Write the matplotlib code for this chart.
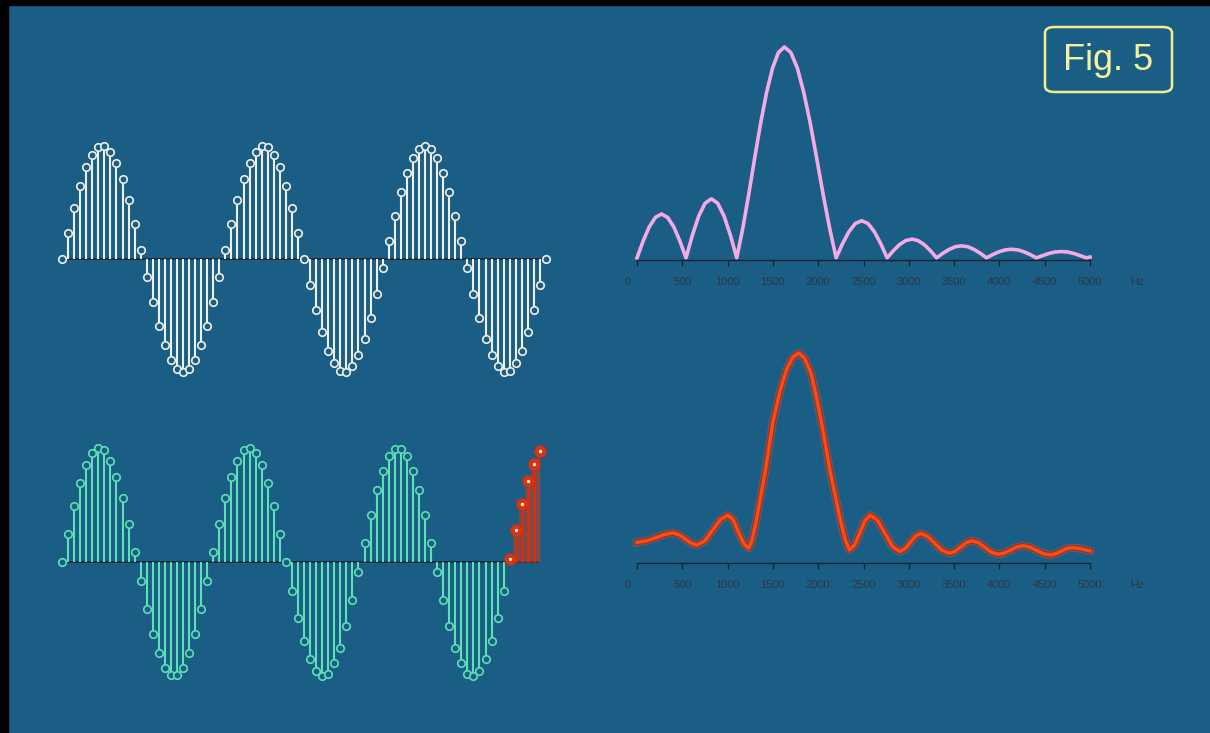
import matplotlib.pyplot as plt
from matplotlib.patches import FancyBboxPatch, Rectangle
from matplotlib.transforms import blended_transform_factory

W, H = 1210, 733
bg = '#1a5e85'
dark = '#1b2230'
label_col = '#2a3848'

# sampled signal, top panel (3 whole cycles in the window)
top_samples = [0.00, 0.23, 0.45, 0.65, 0.81, 0.92, 0.99, 1.00, 0.95, 0.85,
               0.71, 0.52, 0.31, 0.08, -0.16, -0.38, -0.59, -0.76, -0.89, -0.97,
               -1.00, -0.97, -0.89, -0.76, -0.59, -0.38, -0.16, 0.08, 0.31, 0.52,
               0.71, 0.85, 0.95, 1.00, 0.99, 0.92, 0.81, 0.65, 0.45, 0.23,
               0.00, -0.23, -0.45, -0.65, -0.81, -0.92, -0.99, -1.00, -0.95, -0.85,
               -0.71, -0.52, -0.31, -0.08, 0.16, 0.38, 0.59, 0.76, 0.89, 0.97,
               1.00, 0.97, 0.89, 0.76, 0.59, 0.38, 0.16, -0.08, -0.31, -0.52,
               -0.71, -0.85, -0.95, -1.00, -0.99, -0.92, -0.81, -0.65, -0.45, -0.23,
               0.00]

# sampled signal, bottom panel (3 cycles + a cut-off piece in red)
bot_samples = [0.00, 0.25, 0.49, 0.69, 0.85, 0.96, 1.00, 0.98, 0.89, 0.75,
               0.56, 0.33, 0.09, -0.17, -0.41, -0.63, -0.80, -0.93, -0.99, -0.99,
               -0.93, -0.80, -0.63, -0.41, -0.17, 0.09, 0.33, 0.56, 0.75, 0.89,
               0.98, 1.00, 0.96, 0.85, 0.69, 0.49, 0.25, 0.00,
               -0.25, -0.49, -0.69, -0.85, -0.96, -1.00, -0.98, -0.89, -0.75, -0.56,
               -0.33, -0.09, 0.17, 0.41, 0.63, 0.80, 0.93, 0.99, 0.99, 0.93,
               0.80, 0.63, 0.41, 0.17, -0.09, -0.33, -0.56, -0.75, -0.89, -0.98,
               -1.00, -0.96, -0.85, -0.69, -0.49, -0.25]
extra_samples = [0.03, 0.28, 0.51, 0.71, 0.86, 0.97]

# spectrum, top panel
top_freq = [0, 68, 135, 203, 270, 338, 406, 473,
            541, 611, 681, 751, 821, 891, 961, 1031,
            1101, 1167, 1233, 1298, 1364, 1430, 1496, 1561, 1627,
            1698, 1770, 1841, 1913, 1984, 2055, 2127,
            2198, 2268, 2339, 2409, 2480, 2550, 2620, 2691,
            2761, 2829, 2898, 2966, 3034, 3102, 3170, 3239,
            3307, 3376, 3445, 3514, 3583, 3651, 3720, 3789,
            3858, 3927, 3996, 4064, 4133, 4202, 4271, 4339,
            4408, 4477, 4546, 4615, 4684, 4753, 4822, 4891,
            4960, 5000]
top_mag = [0, 8.0, 14.7, 19.2, 20.8, 19.2, 14.7, 8.0,
           0, 10.7, 19.8, 25.9, 28.0, 25.9, 19.8, 10.7,
           0, 13.9, 30.0, 47.1, 63.7, 78.4, 90.0, 97.4, 100,
           97.4, 90.0, 78.4, 63.7, 47.1, 30.0, 13.9,
           0, 6.7, 12.4, 16.3, 17.6, 16.3, 12.4, 6.7,
           0, 3.4, 6.3, 8.2, 8.9, 8.2, 6.3, 3.4,
           0, 2.2, 4.0, 5.3, 5.7, 5.3, 4.0, 2.2,
           0, 1.6, 2.9, 3.8, 4.1, 3.8, 2.9, 1.6,
           0, 1.1, 2.1, 2.8, 3.0, 2.8, 2.1, 1.1,
           0, 0.4]

# spectrum, bottom panel
bot_freq = [0, 100, 200, 300, 394, 462, 530, 597, 665, 750, 835, 920, 1005,
            1062, 1119, 1176, 1233, 1270, 1314, 1414, 1499, 1580, 1650, 1720,
            1785, 1850, 1920, 1980, 2036, 2133, 2249, 2300, 2345,
            2403, 2461, 2519, 2577, 2657, 2737, 2818, 2898,
            2956, 3014, 3072, 3130, 3209, 3288, 3368, 3447,
            3510, 3572, 3635, 3698, 3770, 3843, 3915, 3988,
            4055, 4123, 4190, 4258, 4333, 4409, 4484, 4560,
            4620, 4680, 4739, 4799, 4866, 4933, 5000]
bot_mag = [8.9, 9.6, 11.0, 12.7, 13.5, 12.6, 10.6, 8.5, 7.6, 9.7, 14.8, 19.9, 22.0,
           19.7, 14.0, 8.4, 6.1, 10.0, 18.8, 42.7, 66.6, 82.0, 92.0, 98.0,
           100, 97.5, 90.4, 79.0, 66.6, 42.7, 18.8, 10.0, 5.3,
           7.7, 13.6, 19.6, 22.0, 19.4, 13.2, 7.1, 4.5,
           5.8, 8.8, 11.9, 13.2, 11.8, 8.4, 5.1, 3.7,
           4.6, 6.7, 8.8, 9.7, 8.8, 6.4, 4.1, 3.2,
           3.8, 5.2, 6.7, 7.3, 6.7, 5.1, 3.5, 2.9,
           3.4, 4.6, 5.9, 6.4, 6.1, 5.5, 4.8]

hz_ticks = [0, 500, 1000, 1500, 2000, 2500, 3000, 3500, 4000, 4500, 5000]

fig = plt.figure(figsize=(W / 100, H / 100), dpi=100)
fig.patch.set_facecolor(bg)
plt.rcParams['font.family'] = ['Liberation Sans', 'DejaVu Sans']


def px_axes(x0, y0, x1, y1):
    # pixel box (top-left origin) -> figure axes
    ax = fig.add_axes([x0 / W, 1 - y1 / H, (x1 - x0) / W, (y1 - y0) / H])
    ax.set_facecolor('none')
    return ax


# black frame on the left and top
fig.patches.append(Rectangle((0, 0), 8 / W, 1, transform=fig.transFigure,
                             color='black', zorder=0))
fig.patches.append(Rectangle((0, 1 - 5 / H), 1, 5 / H, transform=fig.transFigure,
                             color='black', zorder=0))


def stems(ax, n, vals, color):
    ax.vlines(n, 0, vals, colors=color, lw=1.5, zorder=2)
    ax.plot(n, vals, 'o', ms=5.4, mfc=bg, mec=color, mew=1.2,
            clip_on=False, zorder=3)


# top-left: white samples
ax1 = px_axes(62, 146, 546, 372)
n_top = list(range(len(top_samples)))
ax1.plot([0, n_top[-1]], [0, 0], color=dark, lw=1.2, zorder=1)
stems(ax1, n_top, top_samples, '#f0efe6')
ax1.set_xlim(0, n_top[-1])
ax1.set_ylim(-1, 1)
ax1.axis('off')

# bottom-left: green samples + red leftover
ax2 = px_axes(62, 448, 540, 676)
n_bot = list(range(len(bot_samples)))
n_ext = list(range(len(bot_samples), len(bot_samples) + len(extra_samples)))
ax2.plot([0, n_ext[-1]], [0, 0], color=dark, lw=1.2, zorder=1)
stems(ax2, n_bot, bot_samples, '#5ee0b6')
ax2.vlines(n_ext, 0, extra_samples, colors='#d8401c', lw=5, alpha=0.35, zorder=2)
ax2.vlines(n_ext, 0, extra_samples, colors='#d23010', lw=2.2, zorder=2)
ax2.plot(n_ext, extra_samples, 'o', ms=9, mfc='#e04a22', mec='#c02a10', alpha=0.5,
         clip_on=False, zorder=3)
ax2.plot(n_ext, extra_samples, 'o', ms=6.5, mfc='#d83414', mec='#d83414',
         clip_on=False, zorder=4)
ax2.plot(n_ext, extra_samples, 'o', ms=2.4, mfc='#fff4ee', mec='none',
         clip_on=False, zorder=5)
ax2.set_xlim(0, n_ext[-1])
ax2.set_ylim(-1, 1)
ax2.axis('off')


def spectrum_axes(ytop, ybot):
    ax = px_axes(637, ytop, 1090, ybot)
    ax.set_xlim(0, 5000)
    ax.set_ylim(-1, 100)
    for side in ['left', 'right', 'top']:
        ax.spines[side].set_visible(False)
    ax.spines['bottom'].set_color(dark)
    ax.spines['bottom'].set_linewidth(1.0)
    ax.set_yticks([])
    ax.set_xticks(hz_ticks)
    ax.tick_params(axis='x', direction='out', length=4, width=1, color=dark,
                   labelbottom=False)
    tr = blended_transform_factory(ax.transData, ax.transAxes)
    lab_y = -22 / (ybot - ytop)
    for v in hz_ticks:
        xv = -100 if v == 0 else v
        ax.text(xv, lab_y, str(v), transform=tr, ha='center', va='center',
                fontsize=8, color=label_col)
    ax.text(5520, lab_y, 'Hz', transform=tr, ha='center', va='center',
            fontsize=8, color=label_col)
    return ax


ax3 = spectrum_axes(47, 260)
ax3.plot(top_freq, top_mag, color='#f5aae6', lw=2.6, solid_joinstyle='round',
         clip_on=False)

ax4 = spectrum_axes(353, 563)
ax4.plot(bot_freq, bot_mag, color='#ff6a3a', lw=6, alpha=0.25,
         solid_joinstyle='round', clip_on=False)
ax4.plot(bot_freq, bot_mag, color='#b82810', lw=4.2, solid_joinstyle='round',
         clip_on=False)
ax4.plot(bot_freq, bot_mag, color='#f0501c', lw=2.4, solid_joinstyle='round',
         clip_on=False)

# "Fig. 5" tag
box = FancyBboxPatch((1045 / W, 1 - 92 / H), 127 / W, 65 / H,
                     boxstyle='round,pad=0,rounding_size=0.008',
                     transform=fig.transFigure, facecolor='none',
                     edgecolor='#f2ee8e', lw=1.8)
fig.patches.append(box)
fig.text(1108 / W, 1 - 60 / H, 'Fig. 5', ha='center', va='center',
         fontsize=26, color='#f6f3a0')

fig.savefig('out.png', dpi=100, facecolor=fig.get_facecolor())
